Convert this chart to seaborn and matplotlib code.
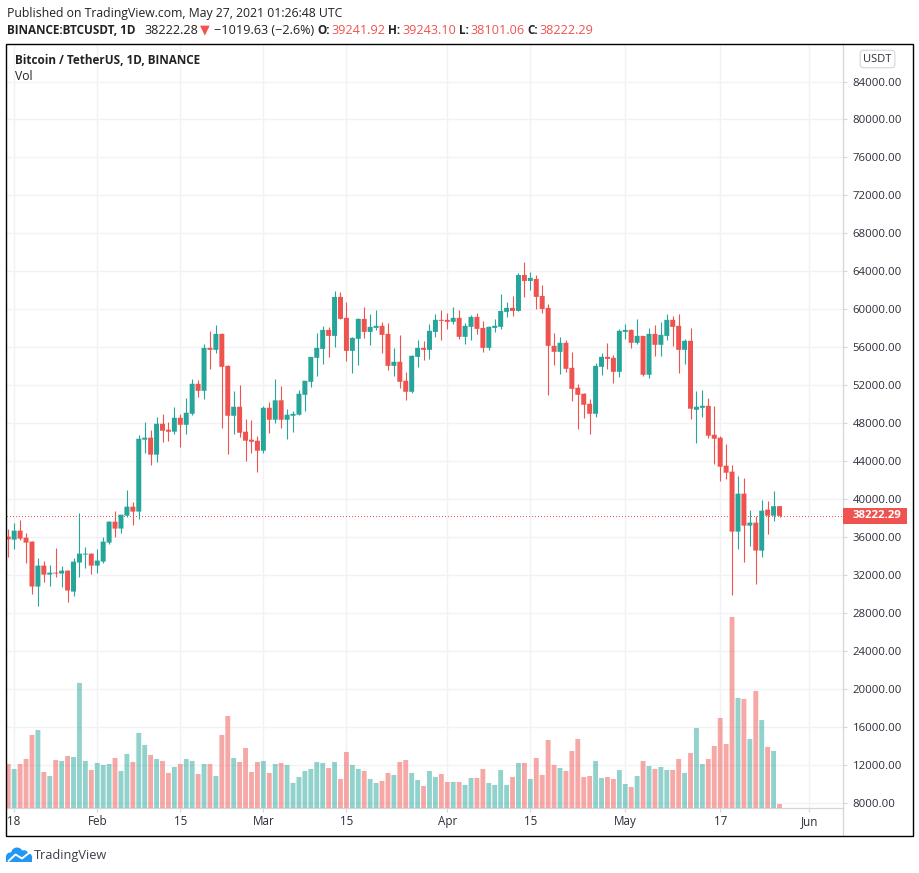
import matplotlib
matplotlib.use('Agg')
import matplotlib.pyplot as plt
from matplotlib.lines import Line2D
from matplotlib.patches import Rectangle, FancyBboxPatch, Circle
import seaborn as sns
import pandas as pd
import numpy as np

W, H = 920, 873
UP = '#26a69a'
DOWN = '#ef5350'
TXT = '#2a2e39'

# daily candles 2021-01-17 .. 2021-05-27, one line per month
opens = [36030, 35720, 36660, 35930, 35510, 30770, 32980, 32030, 32240, 32140, 32450, 30240, 33300, 34140, 34240,
         32980, 33400, 35400, 37610, 36880, 38240, 39190, 38670, 46250, 46460, 44670, 47930, 47300, 47090, 48560, 47820, 48980, 52140, 51400, 55930, 55720, 57400, 54030, 48770, 49720, 47090, 46250, 46140,
         45090, 49610, 48350, 50400, 48350, 48770, 48880, 50980, 52350, 54880, 55820, 57820, 57190, 61300, 59090, 55610, 56880, 58980, 57610, 58030, 58250, 57400, 54030, 54460, 52460, 51300, 54980, 55930, 55720, 57610, 58880,
         58880, 58670, 59090, 57090, 58140, 59190, 58030, 55930, 58030, 58140, 59720, 60140, 59820, 63610, 62980, 63190, 61400, 60140, 56140, 55510, 56460, 53820, 51720, 51090, 50030, 48980, 53930, 54980, 54880, 53400,
         57610, 57820, 56460, 57190, 53090, 57400, 56250, 57190, 58880, 58250, 55720, 56670, 49400, 49610, 49820, 46770, 46460, 43510, 42880, 36560, 40560, 37190, 37510, 34560, 38880, 38240, 39241.92]
highs = [36880, 37510, 37820, 36460, 35610, 33820, 33510, 33090, 34880, 32980, 32560, 33820, 38560, 34980, 34350,
         34770, 36030, 37720, 38770, 38350, 40980, 39720, 46770, 48140, 47300, 48670, 48980, 48140, 49720, 48980, 50670, 52670, 52560, 56350, 57720, 58350, 57510, 54140, 51400, 52030, 48460, 48350, 46670,
         49820, 50250, 52670, 51930, 49510, 49300, 51510, 52460, 54980, 57510, 58250, 58140, 61930, 61820, 60770, 57090, 59090, 60250, 59510, 59930, 58670, 58560, 55930, 57300, 53400, 55190, 56770, 56670, 58460, 59510, 59930,
         59610, 60250, 59930, 58560, 59400, 59610, 58770, 58250, 58980, 61610, 60770, 61400, 63820, 64980, 63930, 63610, 62560, 60560, 57510, 57090, 56770, 55510, 52140, 51190, 50560, 54350, 55400, 56460, 55190, 57930,
         58460, 57930, 58980, 57190, 58030, 58350, 58670, 59510, 59300, 59510, 56880, 58030, 51400, 51510, 50670, 49820, 46670, 45820, 43610, 42460, 42250, 38880, 38240, 39930, 39820, 40880, 39243.10]
lows = [33860, 34770, 35720, 33300, 30030, 28770, 31300, 30880, 31820, 30770, 29190, 29820, 31820, 32770, 32140,
        32240, 33300, 35300, 36030, 36460, 38140, 37300, 37930, 44880, 43610, 43930, 46030, 46140, 46880, 45510, 46880, 48880, 50770, 50560, 53720, 55400, 47510, 44770, 46880, 46560, 44030, 44880, 42880,
        44880, 46980, 48030, 47510, 46350, 47090, 48880, 49300, 51820, 52980, 54250, 54980, 56030, 58980, 54560, 53300, 54140, 56980, 56250, 57820, 55400, 53610, 52980, 51720, 50460, 51190, 53930, 54670, 54770, 57090, 56770,
        57930, 58460, 56880, 56350, 56770, 57400, 55510, 55720, 57610, 57930, 59190, 59300, 59820, 61300, 62030, 60030, 59610, 50980, 54140, 53190, 53400, 50350, 47400, 48560, 46880, 48670, 53090, 53720, 52250, 52880,
        56880, 55930, 56350, 52980, 52770, 55090, 55090, 56770, 56140, 53300, 54250, 48460, 45930, 48670, 46460, 43720, 41930, 42140, 29930, 34770, 33400, 35090, 31090, 33930, 36350, 37720, 38101.06]
closes = [35750, 36660, 35820, 35400, 30770, 32980, 32030, 32240, 32140, 32450, 30350, 33400, 34240, 34240, 32980,
          33510, 35510, 37610, 36880, 38350, 39190, 38670, 46350, 46460, 44670, 47930, 47190, 47090, 48560, 47820, 49090, 52140, 51400, 55930, 55720, 57400, 53930, 48770, 49720, 46980, 46140, 46030, 45090,
          49610, 48350, 50400, 48350, 48880, 48980, 51090, 52460, 54980, 55930, 57820, 57190, 61300, 58980, 55610, 56980, 58980, 57610, 58140, 58250, 57300, 54030, 54460, 52350, 51300, 55090, 55930, 55720, 57720, 58880, 58770,
          58670, 59090, 57090, 58250, 59190, 57930, 55930, 58140, 58250, 59820, 60140, 59820, 63610, 62980, 63300, 61300, 60030, 56140, 55510, 56460, 53720, 51610, 50980, 49930, 48980, 54030, 54980, 54770, 53400, 57720,
          57820, 56460, 57190, 53090, 57400, 56250, 57300, 58880, 58140, 55720, 56670, 49510, 49720, 49820, 46670, 46350, 43400, 42770, 36560, 40560, 37190, 37510, 34560, 38770, 38240, 39240, 38222.29]
# volume, thousand BTC
volumes = [81.4, 72.2, 81.4, 90.7, 135.1, 144.3, 66.6, 59.2, 88.8, 87.0, 96.2, 94.4, 231.3, 87.0, 70.3,
           83.3, 79.6, 81.4, 92.5, 68.5, 99.9, 85.1, 138.8, 116.6, 98.1, 90.7, 87.0, 64.8, 75.9, 81.4, 90.7, 87.0, 62.9, 81.4, 81.4, 59.2, 135.1, 170.2, 92.5, 85.1, 111.0, 66.6, 85.1,
           87.0, 64.8, 81.4, 83.3, 79.6, 46.3, 57.4, 68.5, 72.2, 85.1, 83.3, 74.0, 85.1, 53.7, 103.6, 79.6, 72.2, 68.5, 53.7, 46.3, 50.0, 64.8, 61.1, 85.1, 88.8, 64.8, 51.8, 40.7, 68.5, 57.4, 62.9,
           48.1, 48.1, 48.1, 42.6, 55.5, 55.5, 72.2, 46.3, 42.6, 70.3, 42.6, 57.4, 83.3, 83.3, 53.7, 92.5, 61.1, 125.8, 79.6, 74.0, 68.5, 105.5, 127.7, 57.4, 59.2, 87.0, 55.5, 57.4, 53.7, 70.3,
           44.4, 38.9, 59.2, 87.0, 77.7, 72.2, 75.9, 70.3, 70.3, 90.7, 64.8, 101.8, 148.0, 81.4, 90.7, 114.7, 166.5, 118.4, 353.4, 203.5, 201.7, 127.7, 216.5, 162.8, 112.9, 105.5, 7.4]

price_ticks = list(range(8000, 88000, 4000))
date_ticks = ['2021-01-18', '2021-02-01', '2021-02-15', '2021-03-01', '2021-03-15',
              '2021-04-01', '2021-04-15', '2021-05-01', '2021-05-17', '2021-06-01']
date_labels = ['18', 'Feb', '15', 'Mar', '15', 'Apr', '15', 'May', '17', 'Jun']
last_price = 38222.29

sns.set_style('white')
plt.rcParams['font.family'] = ['Open Sans', 'DejaVu Sans']

start = pd.Timestamp('2021-01-01')
dates = pd.date_range('2021-01-17', periods=len(closes))
df = pd.DataFrame({'day': (dates - start).days, 'open': opens, 'high': highs,
                   'low': lows, 'close': closes, 'vol': volumes})
df['side'] = np.where(df['close'] >= df['open'], 'up', 'down')
tick_days = [(pd.Timestamp(d) - start).days for d in date_ticks]


def fx(x):
    return x / W


def fy(y):
    return 1 - y / H


fig = plt.figure(figsize=(W / 100, H / 100), dpi=100, facecolor='white')
ax = fig.add_axes([fx(7), fy(808), fx(836), (808 - 44) / H])

# volume pane on its own scale, baseline on the time axis
ax2 = ax.twinx()
sns.barplot(data=df, x='day', y='vol', hue='side', palette={'up': UP, 'down': DOWN},
            native_scale=True, dodge=False, width=0.82, saturation=1, alpha=0.5,
            legend=False, ax=ax2)
for p in ax2.patches:
    p.set_snap(False)
    p.set_linewidth(0)
ax2.set_ylim(0, 1413)
ax2.set_axis_off()

# candles
body_colors = [UP if s == 'up' else DOWN for s in df['side']]
ax.vlines(df['day'], df['low'], df['high'], colors=body_colors, linewidth=0.8, zorder=3)
bodies = ax.bar(df['day'], (df['close'] - df['open']).abs(), bottom=df[['open', 'close']].min(axis=1),
                width=0.84, color=body_colors, linewidth=0, zorder=4)
for p in bodies:
    p.set_snap(False)
ax.axhline(last_price, color=DOWN, linestyle=(0, (1.0, 2.3)), linewidth=0.72, zorder=2, antialiased=False)

ax.set_xlim(15.79, 156.7)
ax.set_ylim(7431, 87953)
ax.set_xticks(tick_days)
ax.set_xticklabels(date_labels)
ax.set_yticks(price_ticks)
ax.set_yticklabels([f'{p:.2f}' for p in price_ticks], va='center_baseline')
ax.yaxis.tick_right()
ax.grid(True, color='#f1f2f5', linewidth=1.0)
ax.set_axisbelow(True)
ax.tick_params(axis='y', length=3, width=0.8, color='#d4d6da', labelsize=8.2, labelcolor=TXT, pad=4, right=True)
ax.tick_params(axis='x', length=3, width=0.8, color='#d4d6da', labelsize=8.4, labelcolor=TXT, pad=2, bottom=True)
for s in ['top', 'left']:
    ax.spines[s].set_visible(False)
for s in ['right', 'bottom']:
    ax.spines[s].set_color('#d4d6da')
    ax.spines[s].set_linewidth(0.9)

# price scale separator and outer frame
fig.add_artist(Line2D([fx(843), fx(843)], [fy(808), fy(836)], color='#d4d6da', linewidth=0.9))
fig.add_artist(Rectangle((fx(6.5), fy(836)), fx(906.5), (836 - 43.5) / H, fill=False,
                         edgecolor='black', linewidth=1.0, zorder=10))

# last price tag and currency button
fig.add_artist(Rectangle((fx(843.5), fy(523.7)), fx(63.5), 15.7 / H, facecolor=DOWN, edgecolor='none', zorder=11))
fig.text(fx(877), fy(515.6), f'{last_price:.2f}', color='white', fontsize=8.2, fontweight='bold',
         ha='center', va='center', zorder=12)
fig.add_artist(FancyBboxPatch((fx(862), fy(66)), fx(31), 14 / H, boxstyle='round,pad=0.002,rounding_size=0.004',
                              facecolor='white', edgecolor='#d4d6da', linewidth=0.8, zorder=11))
fig.text(fx(877.5), fy(59.5), 'USDT', color=TXT, fontsize=8, ha='center', va='center', zorder=12)

# header lines
fig.text(fx(7), fy(13), 'Published on TradingView.com, May 27, 2021 01:26:48 UTC', fontsize=8.8, color='#222222', va='center')
header = [(7, 'BINANCE:BTCUSDT, 1D', 'bold', '#222222'), (144, '38222.28', 'normal', '#222222'),
          (200, '\u25bc', 'normal', DOWN), (214, '\u22121019.63 (\u22122.6%)', 'normal', '#222222'),
          (317, 'O:', 'bold', '#222222'), (331, '39241.92', 'normal', DOWN),
          (388, 'H:', 'bold', '#222222'), (402, '39243.10', 'normal', DOWN),
          (459, 'L:', 'bold', '#222222'), (470, '38101.06', 'normal', DOWN),
          (527, 'C:', 'bold', '#222222'), (539, '38222.29', 'normal', DOWN)]
for x, s, w, c in header:
    size = 8.45 if w == 'bold' else 9.1
    fig.text(fx(x), fy(30), s, fontsize=size, fontweight=w, color=c, va='center')

fig.text(fx(15), fy(60), 'Bitcoin / TetherUS, 1D, BINANCE', fontsize=8.45, fontweight='bold', color='#222222', va='center')
fig.text(fx(15), fy(77), 'Vol', fontsize=8.7, color='#222222', va='center')

# logo
logo = fig.add_axes([fx(5), fy(864), fx(29), 19 / H])
logo.set_xlim(5, 34)
logo.set_ylim(864, 845)
logo.axis('off')
BLUE = '#2196f3'
for cx, cy, r in [(10.5, 857, 4.6), (17, 853.5, 6), (24, 854.5, 4.3), (28, 857.5, 4.2)]:
    logo.add_patch(Circle((cx, cy), r, color=BLUE, linewidth=0))
logo.add_patch(Rectangle((6, 857), 26, 4.7, color=BLUE, linewidth=0))
logo.plot([8.5, 15.5, 22, 29], [861, 854.5, 858.5, 853], color='white', linewidth=1.4)
fig.text(fx(34), fy(855), 'TradingView', fontsize=9.2, color='#3a3f4a', va='center')

fig.savefig('out.png', dpi=100)
